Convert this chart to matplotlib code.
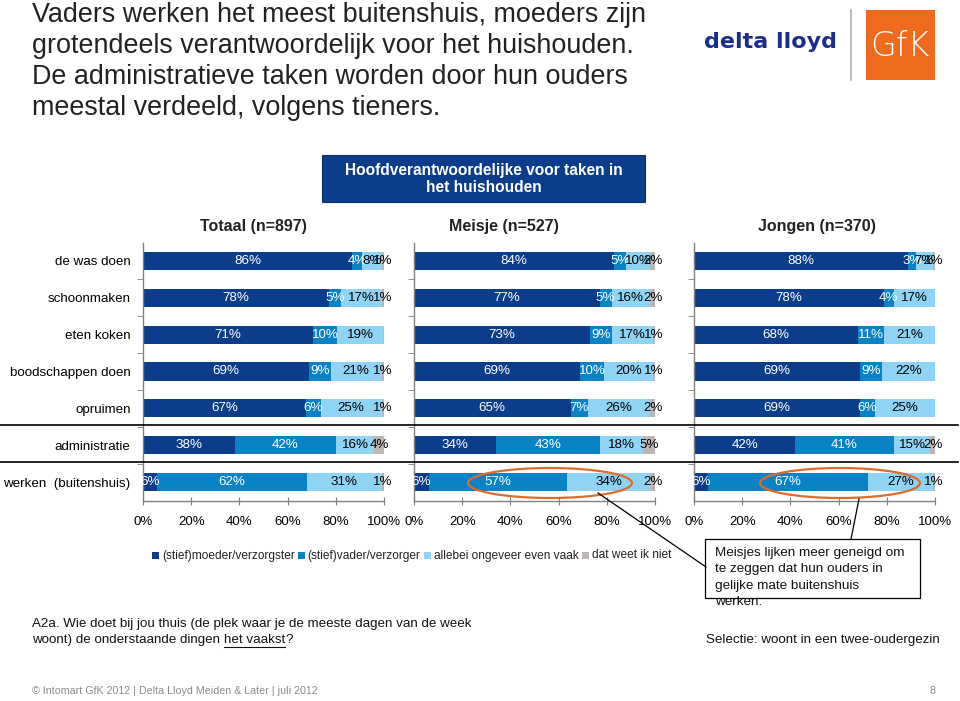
import matplotlib
matplotlib.use("Agg")
import matplotlib.pyplot as plt
from matplotlib.patches import Rectangle, Ellipse
from matplotlib.lines import Line2D
import numpy as np

plt.rcParams['font.family'] = ['Liberation Sans', 'DejaVu Sans']

categories = ["de was doen", "schoonmaken", "eten koken", "boodschappen doen",
              "opruimen", "administratie", "werken  (buitenshuis)"]
series_names = ["(stief)moeder/verzorgster", "(stief)vader/verzorger",
                "allebei ongeveer even vaak", "dat weet ik niet"]
panel_titles = ["Totaal (n=897)", "Meisje (n=527)", "Jongen (n=370)"]

# values per panel: rows = categories, columns = series
totaal_moeder = [86, 78, 71, 69, 67, 38, 6]
totaal_vader = [4, 5, 10, 9, 6, 42, 62]
totaal_allebei = [8, 17, 19, 21, 25, 16, 31]
totaal_weetniet = [1, 1, 0.4, 1, 1, 4, 1]

meisje_moeder = [84, 77, 73, 69, 65, 34, 6]
meisje_vader = [5, 5, 9, 10, 7, 43, 57]
meisje_allebei = [10, 16, 17, 20, 26, 18, 34]
meisje_weetniet = [2, 2, 1, 1, 2, 5, 2]

jongen_moeder = [88, 78, 68, 69, 69, 42, 6]
jongen_vader = [3, 4, 11, 9, 6, 41, 67]
jongen_allebei = [7, 17, 21, 22, 25, 15, 27]
jongen_weetniet = [1, 0, 0, 0, 0, 2, 1]

xticklabels = ["0%", "20%", "40%", "60%", "80%", "100%"]

colors = ["#0c3d8a", "#0a82c6", "#8fd3f5", "#bdb6b6"]
label_colors = ["white", "white", "black", "black"]

panels = [
    [totaal_moeder, totaal_vader, totaal_allebei, totaal_weetniet],
    [meisje_moeder, meisje_vader, meisje_allebei, meisje_weetniet],
    [jongen_moeder, jongen_vader, jongen_allebei, jongen_weetniet],
]

W, H = 960, 701
fig = plt.figure(figsize=(W / 100, H / 100), dpi=100)


def fx(x):
    return x / W


def fy(y):
    return 1 - y / H


def ftext(x, y, s, **kw):
    return fig.text(fx(x), fy(y), s, **kw)


panel_left = [143, 414, 694]
panel_w = 241
ax_top, ax_bot = 242.5, 500.5
n = len(categories)
ypos = np.arange(n)

for pi, (L, data) in enumerate(zip(panel_left, panels)):
    ax = fig.add_axes([fx(L), fy(ax_bot), panel_w / W, (ax_bot - ax_top) / H])
    arr = np.array(data, dtype=float).T  # rows x series
    totals = arr.sum(axis=1)
    left = np.zeros(n)
    for si in range(4):
        vals = arr[:, si]
        widths = vals / totals * 100
        ax.barh(ypos, widths, left=left, height=0.49, color=colors[si],
                edgecolor='none')
        for ri in range(n):
            if vals[ri] >= 1:
                ax.text(left[ri] + widths[ri] / 2, ypos[ri], f"{vals[ri]:.0f}%",
                        ha='center', va='center', fontsize=9.6,
                        color=label_colors[si], clip_on=False)
        left += widths
    ax.set_xlim(0, 100)
    ax.set_ylim(n - 0.5, -0.5)
    ax.set_xticks([0, 20, 40, 60, 80, 100])
    ax.set_xticklabels(xticklabels, fontsize=9.5)
    ax.tick_params(axis='x', direction='inout', length=6, color='#808080',
                   pad=8)
    ax.set_yticks(ypos)
    if pi == 0:
        ax.set_yticklabels(categories, fontsize=9.6)
    else:
        ax.set_yticklabels([])
    ax.tick_params(axis='y', length=0, pad=9)
    ax.set_yticks(np.arange(n - 1) + 0.5, minor=True)
    ax.tick_params(axis='y', which='minor', length=4, color='#808080',
                   direction='out')
    for s in ['top', 'right']:
        ax.spines[s].set_visible(False)
    for s in ['left', 'bottom']:
        ax.spines[s].set_color('#808080')
        ax.spines[s].set_linewidth(1.0)
    ax.set_facecolor('none')

# separator lines
for yy in [425, 462]:
    fig.add_artist(Line2D([fx(0), fx(958)], [fy(yy), fy(yy)], color='black',
                          lw=1.2, transform=fig.transFigure))

# panel headers
for cx, t in zip([253, 504, 817], panel_titles):
    ftext(cx, 227, t, ha='center', va='center', fontsize=11.5,
          fontweight='bold', color='#222222')

# title
title_lines = ["Vaders werken het meest buitenshuis, moeders zijn",
               "grotendeels verantwoordelijk voor het huishouden.",
               "De administratieve taken worden door hun ouders",
               "meestal verdeeld, volgens tieners."]
for i, line in enumerate(title_lines):
    ftext(32, 15.5 + i * 30.8, line, ha='left', va='center', fontsize=19.4,
          color='#222222')

# blue header box
fig.add_artist(Rectangle((fx(322), fy(202)), 323 / W, 47 / H,
                         transform=fig.transFigure, facecolor='#0c3d8a',
                         edgecolor='#0a2f6a', lw=0.8))
ftext(483.5, 170, "Hoofdverantwoordelijke voor taken in", ha='center',
      va='center', fontsize=11.2, color='white', fontweight='bold')
ftext(483.5, 188, "het huishouden", ha='center', va='center', fontsize=11.2,
      color='white', fontweight='bold')

# logos
ftext(770, 42, "delta lloyd", ha='center', va='center', fontsize=16,
      fontweight='heavy', color='#1a2f8c', family=['DejaVu Sans'])
fig.add_artist(Line2D([fx(851), fx(851)], [fy(10), fy(80)], color='#b0b0b0',
                      lw=1.2, transform=fig.transFigure))
fig.add_artist(Rectangle((fx(866), fy(80)), 69 / W, 70 / H,
                         transform=fig.transFigure, facecolor='#f06a1e',
                         edgecolor='none'))
ftext(900, 46, "GfK", ha='center', va='center', fontsize=24, color='white',
      family=['DejaVu Sans'], fontweight='light')

fig.canvas.draw()
r = fig.canvas.get_renderer()

# legend (packed compactly like the reference)
x0 = 152
for name, c in zip(series_names, colors):
    fig.add_artist(Rectangle((fx(x0), fy(559)), 7 / W, 7 / H,
                             transform=fig.transFigure, facecolor=c,
                             edgecolor='none'))
    t = ftext(x0 + 10, 555.5, name, ha='left', va='center', fontsize=8.6,
              color='#222222')
    bb = t.get_window_extent(r)
    x0 = bb.x1 + 3

# ellipses
for cx, w in [(550, 164), (840, 160)]:
    fig.add_artist(Ellipse((fx(cx), fy(483)), w / W, 30 / H,
                           transform=fig.transFigure, facecolor='none',
                           edgecolor='#e06a2a', lw=1.6))

# callout
fig.add_artist(Line2D([fx(598), fx(706)], [fy(493), fy(567)], color='black',
                      lw=0.9, transform=fig.transFigure))
fig.add_artist(Line2D([fx(859), fx(851)], [fy(499), fy(539)], color='black',
                      lw=0.9, transform=fig.transFigure))
fig.add_artist(Rectangle((fx(705), fy(598)), 215 / W, 59 / H,
                         transform=fig.transFigure, facecolor='white',
                         edgecolor='black', lw=0.9))
callout = ["Meisjes lijken meer geneigd om", "te zeggen dat hun ouders in",
           "gelijke mate buitenshuis", "werken."]
for i, line in enumerate(callout):
    ftext(715, 553 + i * 16.3, line, ha='left', va='center', fontsize=9.7,
          color='#111111')

# question text
ftext(32, 624, "A2a. Wie doet bij jou thuis (de plek waar je de meeste dagen van de week",
      ha='left', va='center', fontsize=9.6, color='#111111')
t1 = ftext(32, 640, "woont) de onderstaande dingen ", ha='left', va='center',
           fontsize=9.6, color='#111111')
bb = t1.get_window_extent(r)
t2 = fig.text(bb.x1 / W, fy(640), "het vaakst", ha='left', va='center',
              fontsize=9.6, color='#111111')
bb2 = t2.get_window_extent(r)
fig.add_artist(Line2D([bb2.x0 / W, bb2.x1 / W], [fy(647), fy(647)],
                      color='#111111', lw=0.8, transform=fig.transFigure))
fig.text(bb2.x1 / W, fy(640), "?", ha='left', va='center', fontsize=9.6,
         color='#111111')

ftext(706, 640, "Selectie: woont in een twee-oudergezin", ha='left',
      va='center', fontsize=9.6, color='#111111')

# footer
ftext(32, 691, "© Intomart GfK 2012 | Delta Lloyd Meiden & Later | juli 2012",
      ha='left', va='center', fontsize=7.7, color='#8a8a8a')
ftext(935, 691, "8", ha='right', va='center', fontsize=7.7, color='#8a8a8a')

fig.savefig("out.png", dpi=100)
